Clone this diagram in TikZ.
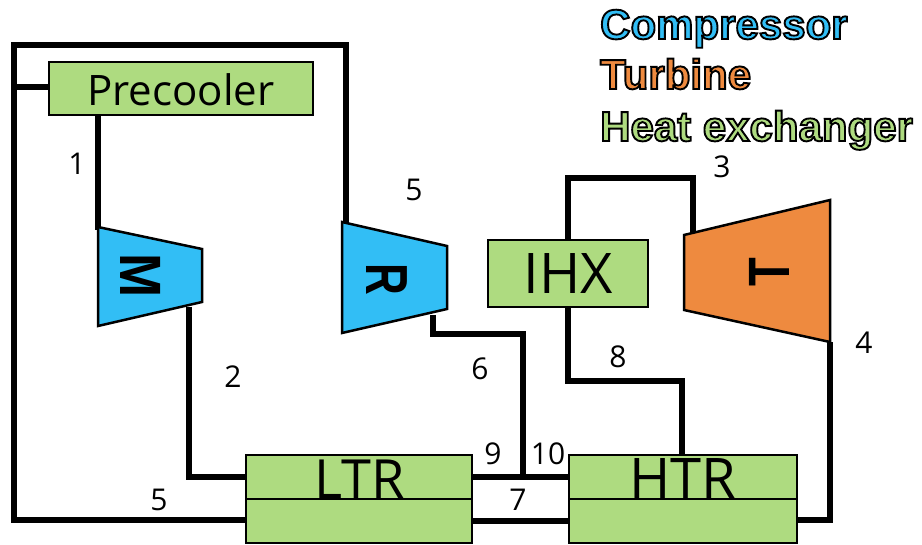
\documentclass[tikz,border=0pt]{standalone}
\usepackage{fontspec}
\setmainfont{Open Sans}
\newfontfamily\boldlet{Liberation Sans}
\font\lgd="Liberation Sans/B:embolden=4.5" at 42pt
\definecolor{hx}{HTML}{AEDB80}
\definecolor{comp}{HTML}{32BEF5}
\definecolor{turb}{HTML}{EE8A3F}
\tikzset{
  x=1pt,y=-1pt,
  pipe/.style={line width=5.2pt,line join=miter},
  box/.style={draw=black,line width=2.8pt,fill=hx,rectangle,inner sep=0pt,outer sep=0pt},
  mach/.style={draw=black,line width=2.5pt,line join=miter},
  lbl/.style={font=\fontsize{30}{30}\selectfont,inner sep=0pt},
  big/.style={font=\fontsize{56}{56}\selectfont,inner sep=0pt},
  rot/.style={inner sep=0pt,rotate=-90},
  legend/.style={anchor=base west,inner sep=0pt},
}
\newcommand{\lgtext}[2]{{\lgd\color{#1}\special{pdf:code 0 0 0 RG}#2}}
\newcommand{\rotlet}[3]{\scalebox{1}[#2]{\boldlet\bfseries\fontsize{#1}{#1}\selectfont #3}}
\begin{document}
\begin{tikzpicture}
\useasboundingbox (0,0) rectangle (922,545);
% nodes
\coordinate (a) at (14,87);
\coordinate (b) at (14,45);
\coordinate (c) at (346,45);
\coordinate (d) at (14,520);
\coordinate (mout) at (189,307);
\coordinate (m1) at (189,477);
\coordinate (rout) at (433,315);
\coordinate (r1) at (433,334);
\coordinate (r2) at (523,334);
\coordinate (r3) at (523,477);
\coordinate (h1) at (830,520);
\coordinate (h2) at (830,342);
\coordinate (i1) at (568,240);
\coordinate (i2) at (568,178);
\coordinate (i3) at (693,178);
\coordinate (i4) at (693,232);
\coordinate (j1) at (568,307);
\coordinate (j2) at (568,381);
\coordinate (j3) at (682,381);
\coordinate (j4) at (682,455);
\coordinate (p1) at (98,115);
\coordinate (p2) at (98,230);
\coordinate (r0) at (346,225);
\coordinate (l1) at (246,477);
\coordinate (l2) at (246,520);
\coordinate (l3) at (472,477);
\coordinate (l4) at (472,521);
\coordinate (t1) at (569,477);
\coordinate (t2) at (569,521);
\coordinate (t3) at (797,520);
\coordinate (pre) at (49,87);
% connectors
\draw[pipe] (l2) -- (d) -- (b) -- (c) -- (r0);
\draw[pipe] (a) -- (pre);
\draw[pipe] (p1) -- (p2);
\draw[pipe] (mout) -- (m1) -- (l1);
\draw[pipe] (rout) -- (r1) -- (r2) -- (r3);
\draw[pipe] (l3) -- (t1);
\draw[pipe] (l4) -- (t2);
\draw[pipe] (t3) -- (h1) -- (h2);
\draw[pipe] (j1) -- (j2) -- (j3) -- (j4);
\draw[pipe] (i1) -- (i2) -- (i3) -- (i4);
% boxes
\path[box] (49,62) rectangle (313,115);
\node[font=\fontsize{42}{42}\selectfont,inner sep=0pt] (precooler) at (181,90) {Precooler};
\path[box] (246,455) rectangle (472,499);
\path[box] (246,499) rectangle (472,543);
\node[big,font=\fontsize{54}{54}\selectfont] (ltr) at (360,479) {LTR};
\path[box] (569,455) rectangle (797,499);
\path[box] (569,499) rectangle (797,543);
\node[big] (htr) at (683,479) {HTR};
\path[box] (488,240) rectangle (648,307);
\node[big] (ihx) at (568,274) {IHX};
% machines
\filldraw[mach,fill=comp] (98,227) -- (202,249) -- (202,302) -- (98,326) -- cycle;
\node[rot] (M) at (141,276) {\rotlet{53}{1.1}{M}};
\filldraw[mach,fill=comp] (342,222) -- (447,246) -- (447,309) -- (342,333) -- cycle;
\node[rot] (R) at (387,279) {\rotlet{44}{1.35}{R}};
\filldraw[mach,fill=turb] (684,235) -- (830,200) -- (830,342) -- (684,310) -- cycle;
\node[rot,rotate=180] (T) at (769,272) {\rotlet{47}{1.24}{T}};
% labels
\node[lbl] (n1) at (77,164) {1};
\node[lbl] (n2) at (233,377) {2};
\node[lbl] (n3) at (722,167) {3};
\node[lbl] (n4) at (864,343) {4};
\node[lbl] (n5a) at (414,190) {5};
\node[lbl] (n5b) at (159,500) {5};
\node[lbl] (n6) at (480,369) {6};
\node[lbl] (n7) at (518,500) {7};
\node[lbl] (n8) at (618,357) {8};
\node[lbl] (n9) at (493,454) {9};
\node[lbl] (n10) at (548,454) {10};
% legend
\node[legend] (lc) at (600,39) {\lgtext{comp}{Compressor}};
\node[legend] (lt) at (600,89) {\lgtext{turb}{Turbine}};
\node[legend] (lh) at (600,141) {\lgtext{hx}{Heat exchanger}};
\end{tikzpicture}
\end{document}
